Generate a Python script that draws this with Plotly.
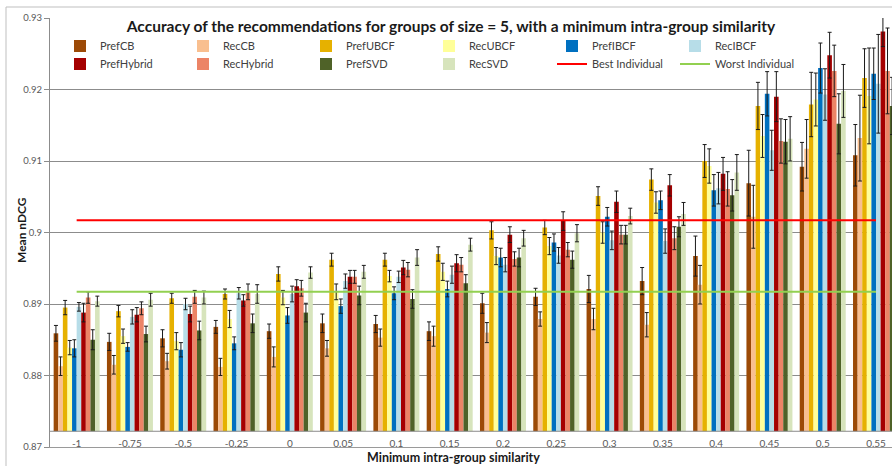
import plotly.graph_objects as go

categories = ["-1", "-0.75", "-0.5", "-0.25", "0", "0.05", "0.1", "0.15",
              "0.2", "0.25", "0.3", "0.35", "0.4", "0.45", "0.5", "0.55"]

pref_cb = [0.8859, 0.8847, 0.8852, 0.8868, 0.8862, 0.8873, 0.8872, 0.8862,
           0.8901, 0.8910, 0.8921, 0.8932, 0.8967, 0.9069, 0.9092, 0.9108]
pref_cb_err = [0.0011, 0.0012, 0.0012, 0.0009, 0.0010, 0.0013, 0.0012, 0.0013,
               0.0014, 0.0012, 0.0019, 0.0019, 0.0028, 0.0046, 0.0034, 0.0043]

rec_cb = [0.8813, 0.8815, 0.8820, 0.8812, 0.8826, 0.8838, 0.8853, 0.8855,
          0.8860, 0.8879, 0.8879, 0.8871, 0.8927, 0.9022, 0.9117, 0.9132]
rec_cb_err = [0.0013, 0.0013, 0.0011, 0.0012, 0.0014, 0.0011, 0.0012, 0.0014,
              0.0014, 0.0010, 0.0015, 0.0017, 0.0027, 0.0044, 0.0041, 0.0060]

pref_ubcf = [0.8895, 0.8890, 0.8908, 0.8914, 0.8942, 0.8962, 0.8962, 0.8970,
             0.9003, 0.9007, 0.9051, 0.9074, 0.9100, 0.9177, 0.9179, 0.9216]
pref_ubcf_err = [0.0010, 0.0008, 0.0007, 0.0007, 0.0010, 0.0009, 0.0009, 0.0010,
                 0.0012, 0.0010, 0.0013, 0.0015, 0.0023, 0.0033, 0.0045, 0.0041]

rec_ubcf = [0.8839, 0.8855, 0.8848, 0.8879, 0.8909, 0.8917, 0.8939, 0.8945,
            0.8967, 0.8981, 0.9000, 0.9042, 0.9093, 0.9135, 0.9186, 0.9191]
rec_ubcf_err = [0.0010, 0.0010, 0.0012, 0.0012, 0.0010, 0.0011, 0.0008, 0.0012,
                0.0012, 0.0012, 0.0015, 0.0015, 0.0024, 0.0030, 0.0037, 0.0067]

pref_ibcf = [0.8838, 0.8840, 0.8836, 0.8845, 0.8884, 0.8897, 0.8915, 0.8921,
             0.8965, 0.8986, 0.9022, 0.9045, 0.9059, 0.9194, 0.9230, 0.9222]
pref_ibcf_err = [0.0012, 0.0006, 0.0010, 0.0009, 0.0011, 0.0010, 0.0009, 0.0011,
                 0.0013, 0.0012, 0.0013, 0.0013, 0.0022, 0.0031, 0.0035, 0.0036]

rec_ibcf = [0.8896, 0.8882, 0.8900, 0.8915, 0.8914, 0.8932, 0.8938, 0.8941,
            0.8955, 0.8968, 0.8989, 0.8988, 0.9062, 0.9115, 0.9193, 0.9208]
rec_ibcf_err = [0.0006, 0.0010, 0.0008, 0.0008, 0.0011, 0.0010, 0.0008, 0.0012,
                0.0010, 0.0011, 0.0013, 0.0017, 0.0022, 0.0028, 0.0036, 0.0069]

pref_hybrid = [0.8888, 0.8885, 0.8886, 0.8905, 0.8925, 0.8938, 0.8951, 0.8957,
               0.8997, 0.9016, 0.9043, 0.9066, 0.9082, 0.9190, 0.9248, 0.9281]
pref_hybrid_err = [0.0013, 0.0010, 0.0011, 0.0008, 0.0009, 0.0009, 0.0010, 0.0012,
                   0.0011, 0.0013, 0.0015, 0.0015, 0.0023, 0.0035, 0.0032, 0.0021]

rec_hybrid = [0.8909, 0.8894, 0.8910, 0.8917, 0.8922, 0.8938, 0.8948, 0.8955,
              0.8963, 0.8976, 0.8997, 0.8992, 0.9061, 0.9128, 0.9226, 0.9226]
rec_hybrid_err = [0.0008, 0.0009, 0.0009, 0.0011, 0.0011, 0.0009, 0.0010, 0.0010,
                  0.0010, 0.0010, 0.0013, 0.0016, 0.0024, 0.0031, 0.0036, 0.0060]

pref_svd = [0.8850, 0.8858, 0.8863, 0.8873, 0.8888, 0.8912, 0.8907, 0.8929,
            0.8965, 0.8962, 0.8997, 0.9008, 0.9052, 0.9127, 0.9152, 0.9177]
pref_svd_err = [0.0014, 0.0011, 0.0013, 0.0013, 0.0013, 0.0013, 0.0013, 0.0012,
                0.0013, 0.0012, 0.0013, 0.0014, 0.0022, 0.0031, 0.0042, 0.0040]

rec_svd = [0.8904, 0.8906, 0.8909, 0.8914, 0.8944, 0.8945, 0.8965, 0.8983,
           0.8992, 0.8999, 0.9023, 0.9026, 0.9084, 0.9131, 0.9198, 0.9190]
rec_svd_err = [0.0007, 0.0009, 0.0009, 0.0013, 0.0008, 0.0009, 0.0011, 0.0009,
               0.0011, 0.0012, 0.0011, 0.0016, 0.0025, 0.0031, 0.0037, 0.0040]

best_individual = 0.9017
worst_individual = 0.8917

series = [
    ("PrefCB", pref_cb, pref_cb_err, "#9C4A06", "legend"),
    ("RecCB", rec_cb, rec_cb_err, "#F9BF8F", "legend"),
    ("PrefUBCF", pref_ubcf, pref_ubcf_err, "#E6B100", "legend"),
    ("RecUBCF", rec_ubcf, rec_ubcf_err, "#FFFF99", "legend"),
    ("PrefIBCF", pref_ibcf, pref_ibcf_err, "#0070C0", "legend"),
    ("RecIBCF", rec_ibcf, rec_ibcf_err, "#B7DDE8", "legend"),
    ("PrefHybrid", pref_hybrid, pref_hybrid_err, "#A50000", "legend2"),
    ("RecHybrid", rec_hybrid, rec_hybrid_err, "#EC8466", "legend2"),
    ("PrefSVD", pref_svd, pref_svd_err, "#4F6228", "legend2"),
    ("RecSVD", rec_svd, rec_svd_err, "#D7E4BC", "legend2"),
]

BASE = 0.8722
FONT = "Lato"

fig = go.Figure()
for name, vals, errs, color, leg in series:
    fig.add_trace(go.Bar(
        name=name, x=categories, y=[v - BASE for v in vals], base=BASE,
        marker=dict(color=color, line=dict(width=0)),
        error_y=dict(type="data", array=errs, symmetric=True,
                     color="#1a1a1a", thickness=1, width=2),
        legend=leg,
    ))

fig.add_trace(go.Scatter(
    name="Best Individual", x=categories, y=[best_individual] * len(categories),
    mode="lines", line=dict(color="#FF0000", width=2), legend="legend2"))
fig.add_trace(go.Scatter(
    name="Worst Individual", x=categories, y=[worst_individual] * len(categories),
    mode="lines", line=dict(color="#92D050", width=2), legend="legend2"))

L, T, B = 50, 18, 19
W, H = 892, 466
pw, ph = W - L, H - T - B


def px_x(x):
    return (x - L) / pw


def px_y(y):
    return 1 - (y - T) / ph


legend_common = dict(
    orientation="h", xanchor="left", yanchor="middle",
    bgcolor="rgba(0,0,0,0)", borderwidth=0,
    font=dict(family=FONT, size=11, color="#404040"),
    entrywidth=78, entrywidthmode="pixels", tracegroupgap=0,
    traceorder="normal",
)

fig.update_layout(
    width=W, height=H,
    margin=dict(l=L, r=0, t=T, b=B, autoexpand=False),
    paper_bgcolor="white", plot_bgcolor="white",
    barmode="group", bargap=0.137, bargroupgap=0,
    font=dict(family=FONT, color="#595959"),
    title=dict(
        text="<b>Accuracy of the recommendations for groups of size = 5, with a minimum intra-group similarity</b>",
        font=dict(family=FONT, size=15.5, color="#1a1a1a"),
        x=451 / W, xanchor="center", xref="container",
        y=1 - 27 / H, yanchor="middle", yref="container",
    ),
    legend=dict(x=px_x(60), y=px_y(46), **legend_common),
    legend2=dict(x=px_x(60), y=px_y(64), **legend_common),
    showlegend=True,
    xaxis=dict(
        type="category", range=[-0.5, 15.3],
        showgrid=False, showline=True, linecolor="#9a9a9a", linewidth=1,
        ticks="", ticklabelstandoff=-13,
        tickfont=dict(family=FONT, size=10, color="#595959"),
        automargin=False, fixedrange=True,
    ),
    yaxis=dict(
        range=[0.87, 0.93], tickvals=[0.87, 0.88, 0.89, 0.90, 0.91, 0.92, 0.93],
        ticktext=["0.87", "0.88", "0.89", "0.9", "0.91", "0.92", "0.93"],
        showgrid=True, gridcolor="#8c8c8c", gridwidth=1, zeroline=False,
        showline=True, linecolor="#8c8c8c", linewidth=1,
        ticks="outside", ticklen=5, tickcolor="#8c8c8c",
        tickfont=dict(family=FONT, size=9.5, color="#595959"),
        automargin=False, fixedrange=True,
    ),
    annotations=[
        dict(text="<b>Mean nDCG</b>", textangle=-90, showarrow=False,
             xref="paper", yref="paper", x=px_x(22), y=px_y(230),
             xanchor="center", yanchor="middle",
             font=dict(family=FONT, size=12, color="#1a1a1a")),
        dict(text="<b>Minimum intra-group similarity</b>", showarrow=False,
             xref="paper", yref="paper", x=px_x(453), y=px_y(457),
             xanchor="center", yanchor="middle",
             font=dict(family=FONT, size=12.5, color="#1a1a1a")),
    ],
    shapes=[
        dict(type="line", xref="paper", yref="y", x0=0, x1=1, y0=BASE, y1=BASE,
             line=dict(color="#8c8c8c", width=1)),
        dict(type="rect", xref="paper", yref="paper",
             x0=px_x(6), x1=1.02, y0=-0.2, y1=px_y(7),
             line=dict(color="#bfbfbf", width=1), layer="below"),
    ],
)

fig.write_html("out.html", config={"displayModeBar": False},
               post_script="document.body.style.margin='0';document.body.style.overflow='hidden';")
